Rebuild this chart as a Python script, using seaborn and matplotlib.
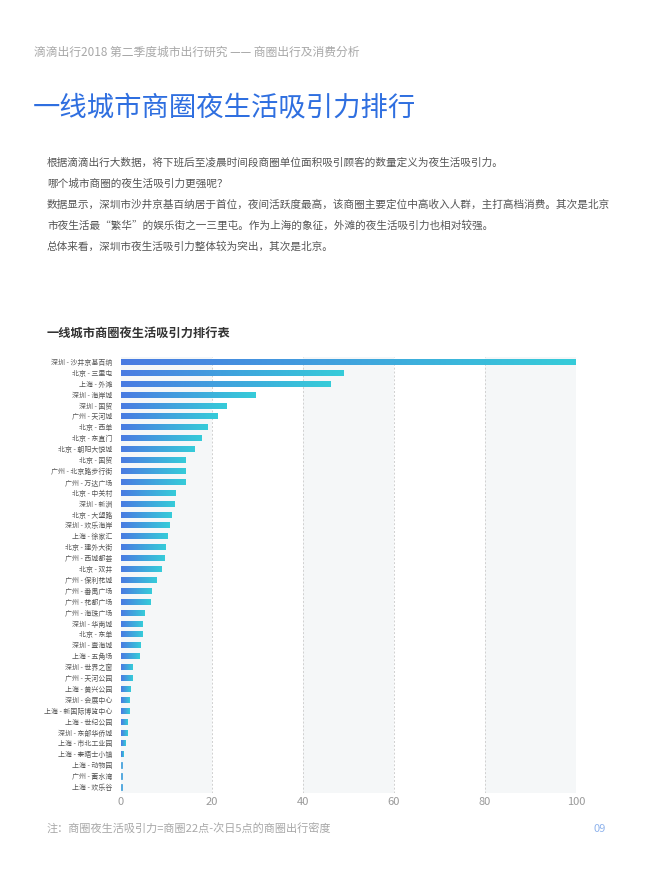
import numpy as np
import pandas as pd
import seaborn as sns
import matplotlib.pyplot as plt
from matplotlib.colors import LinearSegmentedColormap

# dados
shangquan = [
    '深圳 - 沙井京基百纳', '北京 - 三里屯', '上海 - 外滩', '深圳 - 海岸城', '深圳 - 国贸',
    '广州 - 天河城', '北京 - 西单', '北京 - 东直门', '北京 - 朝阳大悦城', '北京 - 国贸',
    '广州 - 北京路步行街', '广州 - 万达广场', '北京 - 中关村', '深圳 - 新洲', '北京 - 大望路',
    '深圳 - 欢乐海岸', '上海 - 徐家汇', '北京 - 建外大街', '广州 - 西城都荟', '北京 - 双井',
    '广州 - 保利花城', '广州 - 番禺广场', '广州 - 花都广场', '广州 - 海珠广场', '深圳 - 华南城',
    '北京 - 东单', '深圳 - 壹海城', '上海 - 五角场', '深圳 - 世界之窗', '广州 - 天河公园',
    '上海 - 黄兴公园', '深圳 - 会展中心', '上海 - 新国际博览中心', '上海 - 世纪公园', '深圳 - 东部华侨城',
    '上海 - 市北工业园', '上海 - 泰晤士小镇', '上海 - 动物园', '广州 - 蓄水湾', '上海 - 欢乐谷',
]
xiyinli = [
    100, 48.8, 46.1, 29.6, 23.1,
    21.3, 19.1, 17.6, 16.1, 14.2,
    14.2, 14.2, 12.0, 11.8, 11.0,
    10.6, 10.2, 9.8, 9.5, 9.0,
    7.7, 6.6, 6.4, 5.1, 4.7,
    4.7, 4.2, 4.05, 2.6, 2.6,
    2.0, 1.95, 1.95, 1.45, 1.45,
    1.0, 0.65, 0.2, 0.2, 0.2,
]
xticks = [0, 20, 40, 60, 80, 100]

sns.set_theme(style='white')
plt.rcParams['font.family'] = ['Noto Sans CJK SC', 'DejaVu Sans']

W, H = 650, 882
fig = plt.figure(figsize=(W / 100, H / 100), dpi=100)


def fy(py):  # pixel y -> figura
    return 1 - py / H


# textos da página
fig.text(34 / W, fy(52), '滴滴出行2018 第二季度城市出行研究 —— 商圈出行及消费分析',
         fontsize=8.5, color='#a8a8a8', va='center')
fig.text(33 / W, fy(108), '一线城市商圈夜生活吸引力排行',
         fontsize=19.7, color='#2f6fe0', va='center')

paragrafo = [
    '根据滴滴出行大数据，将下班后至凌晨时间段商圈单位面积吸引顾客的数量定义为夜生活吸引力。',
    '哪个城市商圈的夜生活吸引力更强呢？',
    '数据显示，深圳市沙井京基百纳居于首位，夜间活跃度最高，该商圈主要定位中高收入人群，主打高档消费。其次是北京',
    '市夜生活最“繁华”的娱乐街之一三里屯。作为上海的象征，外滩的夜生活吸引力也相对较强。',
    '总体来看，深圳市夜生活吸引力整体较为突出，其次是北京。',
]
for i, linha in enumerate(paragrafo):
    fig.text(47 / W, fy(163 + i * 20.8), linha, fontsize=7.65, color='#555555', va='center')

fig.text(47 / W, fy(333), '一线城市商圈夜生活吸引力排行表',
         fontsize=8.8, color='#333333', fontweight='bold', va='center')
fig.text(47 / W, fy(829), '注：商圈夜生活吸引力=商圈22点-次日5点的商圈出行密度',
         fontsize=8, color='#a8a8a8', va='center')
fig.text(600 / W, fy(829), '09', fontsize=8, color='#8fb3ec', va='center', ha='center')

# eixo do gráfico
top, bottom = 356.5, 792.5
ax = fig.add_axes([121 / W, fy(bottom), (576 - 121) / W, (bottom - top) / H])

df = pd.DataFrame({'商圈': shangquan, '吸引力': xiyinli})
sns.barplot(data=df, x='吸引力', y='商圈', orient='h', width=0.55,
            color='#4a9be0', saturation=1, ax=ax, zorder=3)
barras = list(ax.patches)  # só as barras, antes das faixas

ylim = ax.get_ylim()

# faixas alternadas no fundo
for a in (0, 40, 80):
    ax.axvspan(a, a + 20, color='#f5f7f8', zorder=0, lw=0)
for t in xticks[1:]:
    ax.axvline(t, color='#d0d0d0', lw=0.7, ls=(0, (2, 2)), zorder=1)

# gradiente azul -> ciano em cada barra
cmap = LinearSegmentedColormap.from_list('barra', ['#4a7be2', '#36ccd9'])
grad = np.linspace(0, 1, 256).reshape(1, -1)
for patch in barras:
    x0, y0 = patch.get_x(), patch.get_y()
    w, h = patch.get_width(), patch.get_height()
    if w < 0.5:
        patch.set_edgecolor('#4aa5dd')
        patch.set_linewidth(0.6)
        continue
    ax.imshow(grad, cmap=cmap, aspect='auto', interpolation='bilinear',
              extent=[x0, x0 + w, y0 + h, y0], zorder=4)
    patch.set_edgecolor('none')

ax.set_xlim(0, 100)
ax.set_ylim(ylim)
ax.set_xticks(xticks)
ax.set_xlabel('')
ax.set_ylabel('')
ax.tick_params(axis='y', labelsize=5, colors='#555555', pad=6, length=0)
ax.tick_params(axis='x', labelsize=8, colors='#999999', pad=3, length=0)
sns.despine(ax=ax, left=True, bottom=True)

fig.savefig('out.png', dpi=100, facecolor='white')
